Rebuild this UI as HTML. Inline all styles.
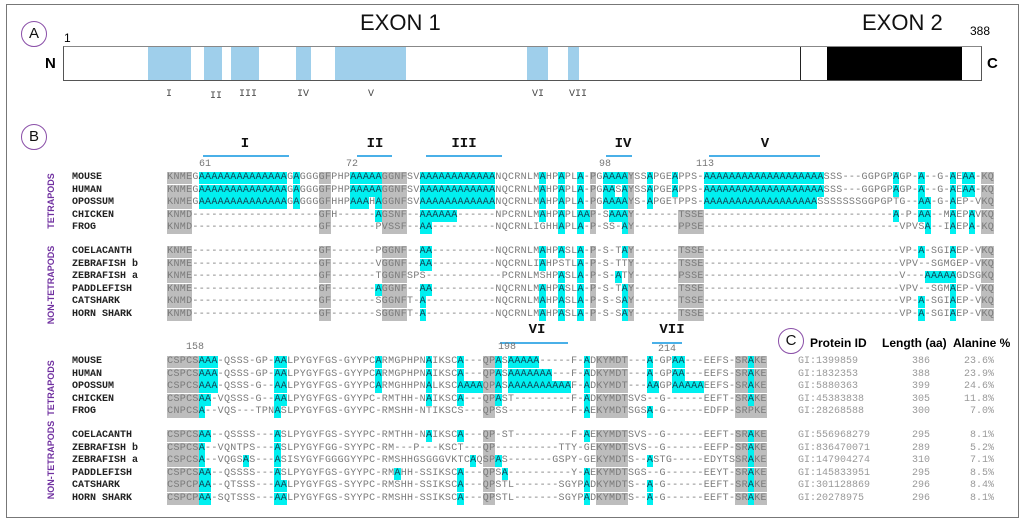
<!DOCTYPE html>
<html><head><meta charset="utf-8"><style>
body{margin:0;width:1024px;height:524px;background:#fff;position:relative;overflow:hidden;font-family:"Liberation Sans",sans-serif}
.a{position:absolute}
.seqrow{position:absolute;left:167px;height:12px;font-family:"Liberation Mono",monospace;font-size:10px;line-height:12px;color:#7a7a7a;white-space:pre}
.seqrow span{display:inline-block;width:6.32px;text-align:center}
.g{background:#bdbdbd}
.c{background:#00f0f0;color:#145;}
.lab{position:absolute;left:72px;font-family:"Liberation Mono",monospace;font-weight:bold;font-size:10px;color:#222;line-height:12px}
.num{position:absolute;font-family:"Liberation Mono",monospace;font-size:10px;color:#777}
.hdr{position:absolute;font-family:"Liberation Mono",monospace;font-weight:bold;font-size:14px;color:#111;transform:translateX(-50%)}
.hl{position:absolute;height:2px;background:#4ab0e8}
.vt{position:absolute;color:#7030a0;font-size:9px;font-weight:bold;transform:translate(-50%,-50%) rotate(-90deg);white-space:nowrap}
.circ{position:absolute;width:24px;height:24px;border:1.2px solid #8a4fa8;border-radius:50%;text-align:center;line-height:24px;font-size:15px;color:#111}
.blk{position:absolute;top:47px;height:33px;background:#9fcfeb}
.rn{position:absolute;top:89px;font-family:"Liberation Mono",monospace;font-size:10px;color:#444;transform:translateX(-50%)}
.tc{position:absolute;font-family:"Liberation Mono",monospace;font-size:10px;color:#999;line-height:12px}
</style></head><body>
<div class="a" style="left:6px;top:4px;width:1011px;height:512px;border:1px solid #777"></div>
<div class="circ" style="left:21px;top:21px">A</div>
<div class="circ" style="left:21px;top:124px">B</div>
<div class="circ" style="left:778px;top:328px">C</div>
<div class="a" style="left:360px;top:10px;font-size:22px;color:#111">EXON 1</div>
<div class="a" style="left:862px;top:10px;font-size:22px;color:#111">EXON 2</div>
<div class="a" style="left:64px;top:31px;font-size:12px">1</div>
<div class="a" style="left:970px;top:24px;font-size:12px">388</div>
<div class="a" style="left:45px;top:55px;font-size:15px;font-weight:bold">N</div>
<div class="a" style="left:987px;top:55px;font-size:15px;font-weight:bold">C</div>
<div class="a" style="left:63px;top:46px;width:917px;height:33px;border:1px solid #555;border-top-color:#888"></div>
<div class="blk" style="left:148px;width:43px"></div>
<div class="blk" style="left:204px;width:18px"></div>
<div class="blk" style="left:231px;width:28px"></div>
<div class="blk" style="left:296px;width:15px"></div>
<div class="blk" style="left:335px;width:71px"></div>
<div class="blk" style="left:527px;width:21px"></div>
<div class="blk" style="left:568px;width:11px"></div>
<div class="a" style="left:800px;top:47px;width:1px;height:33px;background:#222"></div>
<div class="a" style="left:827px;top:47px;width:135px;height:33px;background:#000"></div>
<div class="rn" style="left:169px">I</div>
<div class="rn" style="left:216px;top:91px">II</div>
<div class="rn" style="left:248px">III</div>
<div class="rn" style="left:303px">IV</div>
<div class="rn" style="left:371px">V</div>
<div class="rn" style="left:538px">VI</div>
<div class="rn" style="left:578px">VII</div>

<div class="hdr" style="left:245px;top:136px">I</div>
<div class="hl" style="left:203px;top:155px;width:86px"></div>
<div class="hdr" style="left:375px;top:136px">II</div>
<div class="hl" style="left:357px;top:155px;width:35px"></div>
<div class="hdr" style="left:464px;top:136px">III</div>
<div class="hl" style="left:426px;top:155px;width:76px"></div>
<div class="hdr" style="left:623px;top:136px">IV</div>
<div class="hl" style="left:606px;top:155px;width:26px"></div>
<div class="hdr" style="left:765px;top:136px">V</div>
<div class="hl" style="left:709px;top:155px;width:111px"></div>
<div class="hdr" style="left:537px;top:322px">VI</div>
<div class="hl" style="left:500px;top:342px;width:68px"></div>
<div class="hdr" style="left:672px;top:322px">VII</div>
<div class="hl" style="left:652px;top:342px;width:30px"></div>

<div class="num" style="left:199px;top:159px">61</div>
<div class="num" style="left:346px;top:159px">72</div>
<div class="num" style="left:599px;top:159px">98</div>
<div class="num" style="left:696px;top:159px">113</div>
<div class="num" style="left:186px;top:342px">158</div>
<div class="num" style="left:498px;top:342px">198</div>
<div class="num" style="left:658px;top:344px">214</div>

<div class="vt" style="left:51px;top:201px">TETRAPODS</div>
<div class="vt" style="left:51px;top:285px">NON-TETRAPODS</div>
<div class="vt" style="left:51px;top:388px">TETRAPODS</div>
<div class="vt" style="left:51px;top:460px">NON-TETRAPODS</div>

<div class="a" style="left:810px;top:336px;font-size:12px;font-weight:bold">Protein ID</div>
<div class="a" style="left:882px;top:336px;font-size:12px;font-weight:bold">Length (aa)</div>
<div class="a" style="left:953px;top:336px;font-size:12px;font-weight:bold">Alanine %</div>

<div id="root"></div>
<script>
const species = ["MOUSE","HUMAN","OPOSSUM","CHICKEN","FROG","COELACANTH","ZEBRAFISH b","ZEBRAFISH a","PADDLEFISH","CATSHARK","HORN SHARK"];
const A = n => "A".repeat(n), D = n => "-".repeat(n);
const block1 = [
 "KNMEG"+A(14)+"GAGGGGFPHPAAAAAGGNFSV"+A(12)+"NQCRNLMAHPAPLA-PGAAAAYSSAPGEAPPS-"+A(19)+"SSS---GGPGPAGP-A--G-AEAA-KQ",
 "KNMEG"+A(14)+"GAGGGGFPHPAAAAAGGNFSV"+A(12)+"NQCRNLMAHPAPLA-PGAASAYSSAPGEAPPS-"+A(19)+"SSS---GGPGPAGP-A--G-AEAA-KQ",
 "KNMEG"+A(14)+"GAGGGGFHHPAAAHAGGNFSV"+A(12)+"NQCRNLMAHPAPLA-PGAAAAYS-APGETPPS-"+A(18)+"SSSSSSSGGPGPTG--AA-G-AEP-VKQ",
 "KNMD"+D(20)+"GFH"+D(6)+"AGSNF--AAAAAA------NPCRNLMAHPAPLAAP-SAAAY-------TSSE"+D(30)+"A-P-AA--MAEPAVKQ",
 "KNMD"+D(20)+"GF"+D(7)+"PVSSF--AA"+D(10)+"NQCRNLIGHHAPLA-P-SS-AY-------PPSE"+D(31)+"VPVSA--IAEPA-KQ",
 "KNME"+D(20)+"GF"+D(7)+"PGGNF--AA"+D(10)+"NQCRNLMAHPASLA-P-S-TAY-------TSSE"+D(31)+"VP-A-SGIAEP-VKQ",
 "KNME"+D(20)+"GF"+D(7)+"VGGNF--AA"+D(10)+"NQCRNLIAHPSTLA-P-S-TTY-------TSSE"+D(31)+"VPV--SGMGEP-VKQ",
 "KNME"+D(20)+"GF"+D(7)+"TGGNFSPS"+D(12)+"PCRNLMSHPASLA-P-S-ATY-------PSSE"+D(31)+"V---AAAAAGDSGKQ",
 "KNME"+D(20)+"GF"+D(7)+"AGGNF--AA"+D(10)+"NQCRNLMAHPASLA-P-S-TAY-------TSSE"+D(31)+"VPV--SGMAEP-VKQ",
 "KNMD"+D(20)+"GF"+D(7)+"SGGNFT-A"+D(11)+"NQCRNLMAHPASLA-P-S-SAY-------TSSE"+D(31)+"VP-A-SGIAEP-VKQ",
 "KNMD"+D(20)+"GF"+D(7)+"SGGNFT-A"+D(11)+"NQCRNLMAHPASLA-P-S-SAY-------TSSE"+D(31)+"VP-A-SGIAEP-VKQ"
];
const block2 = [
 "CSPCSAAA-QSSS-GP-AALPYGYFGS-GYYPCARMGPHPNAIKSCA---QPAS"+A(5)+"-----F-ADKYMDT---A-GPAA---EEFS-SRAKE",
 "CSPCSAAA-QSSS-GP-AALPYGYFGS-GYYPCARMGPHPNAIKSCA---QPAS"+A(7)+"---F-ADKYMDT---A-GPAA---EEFS-SRAKE",
 "CSPCSAAA-QSSS-G--AALPYGYFGS-GYYPCARMGHHPNALKSCAAAAQPAS"+A(10)+"F-ADKYMDT---AAGPAAAAAEEFS-SRAKE",
 "CSPCSAA-VQSSS-G--AALPYGYFGS-GYYPC-RMTHH-NAIKSCA---QPAST"+D(9)+"F-ADKYMDTSVS--G------EEFT-SRAKE",
 "CNPCSA--VQS---TPNASLPYGYFGS-GYYPC-RMSHH-NTIKSCS---QPSS"+D(10)+"F-AEKYMDTSGSA-G------EDFP-SRPKE",
 "CSPCSAA--QSSSS---ASLPYGYFGS-SYYPC-RMTHH-NAIKSCA---QP-ST"+D(9)+"F-AEKYMDTSVS--G------EEFT-SRAKE",
 "CSPCSA--VQNTPS---ASLPYGYFGG-SYYPC-RM---P---KSCT---QP"+D(10)+"TTY-GEKYMDTSVS--G------EEFP-SRAKE",
 "CSPCSA--VQGSAS---ASISYGYFGGGGYYPC-RMSHHGSGGGVKTCAQSPAS-------GSPY-GEKYMDTS--ASTG-----EDYTSSRAKE",
 "CSPCSAA--QSSSS---ASLPYGYFGS-GYYPC-RMAHH-SSIKSCA---QPSA"+D(10)+"Y-AEKYMDTSGS--G------EEYT-SRAKE",
 "CSPCPAA--QTSSS---AALPYGYFGS-SYYPC-RMSHH-SSIKSCA---QPSTL-------SGYPADKYMDTS--A-G------EEFT-SRAKE",
 "CSPCPAA-SQTSSS---AALPYGYFGS-SYYPC-RMSHH-SSIKSCA---QPSTL-------SGYPADKYMDTS--A-G------EEFT-SRAKE"
];
const proteinIds = ["GI:1399859","GI:1832353","GI:5880363","GI:45383838","GI:28268588","GI:556968279","GI:836470071","GI:147904274","GI:145833951","GI:301128869","GI:20278975"];
const lengths = [386,388,399,305,300,295,289,310,295,296,296];
const alaninePct = ["23.6%","23.9%","24.6%","11.8%","7.0%","8.1%","5.2%","7.1%","8.5%","8.4%","8.1%"];
const rowY1 = [172,184.5,197,209.5,222,246,258.5,271,283.5,296,308.5];
const rowY2 = [356,368.5,381,393.5,406,430,442.5,455,467.5,480,492.5];
const gray1 = [[0,3],[24,25],[34,37],[67,67],[73,73],[129,130]];
const gray2 = [[0,4],[50,51],[68,72],[90,94]];
const root = document.getElementById('root');
function inG(ranges,i){return ranges.some(r=>i>=r[0]&&i<=r[1]);}
function drawBlock(rows, ys, gray, bi){
  rows.forEach((s,r)=>{
    const lab=document.createElement('div');
    lab.className='lab';lab.style.top=ys[r]+'px';lab.textContent=species[r];
    
    
    root.appendChild(lab);
    const d=document.createElement('div');
    d.className='seqrow';d.style.top=ys[r]+'px';
    
    
    let h='';
    for(let i=0;i<s.length;i++){
      const ch=s[i];
      let cl='';
      if(ch==='A')cl='c';
      else if(inG(gray,i)&&!(bi===1&&i>=81&&i<=84))cl='g';
      if(bi===1&&i>=81&&i<=84&&r>=3&&ch!=='A')cl='g';
      h+='<span'+(cl?' class="'+cl+'"':'')+'>'+ch+'</span>';
    }
    d.innerHTML=h;root.appendChild(d);
  });
}
gray1.push([81,84]);
drawBlock(block1,rowY1,gray1,1);
drawBlock(block2,rowY2,gray2,2);
proteinIds.forEach((id,r)=>{
  const a=document.createElement('div');a.className='tc';a.style.left='798px';a.style.top=rowY2[r]+'px';a.textContent=id;
  
  
  root.appendChild(a);
  const b=document.createElement('div');b.className='tc';b.style.left='912px';b.style.top=rowY2[r]+'px';b.textContent=lengths[r];
  
  
  root.appendChild(b);
  const c=document.createElement('div');c.className='tc';c.style.right=(1024-994)+'px';c.style.top=rowY2[r]+'px';c.textContent=alaninePct[r];
  
  
  root.appendChild(c);
});
</script>
</body></html>
